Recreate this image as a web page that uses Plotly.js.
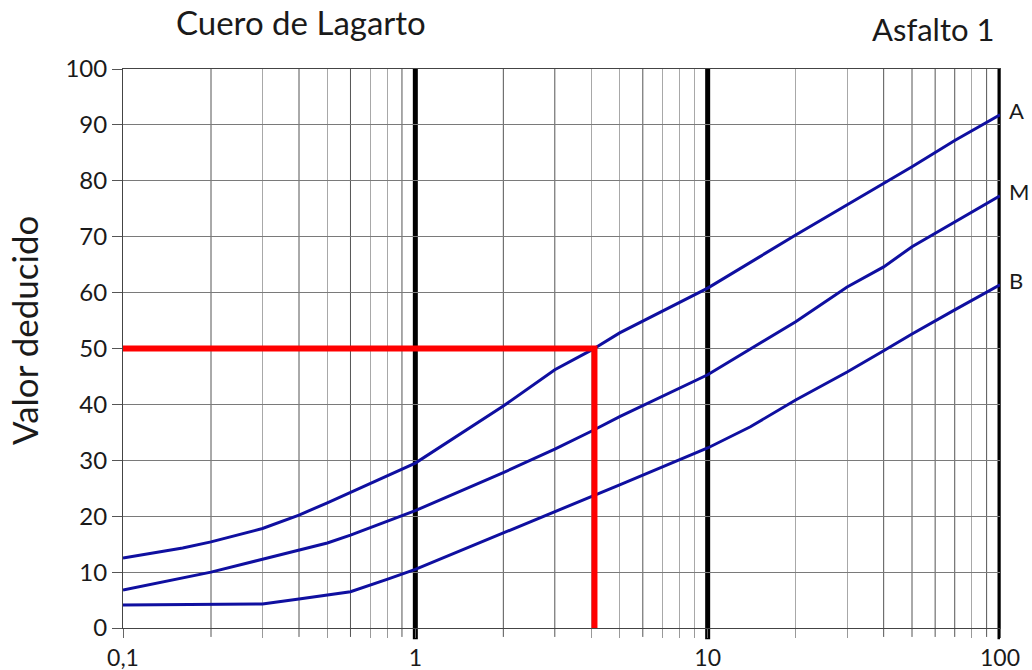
<!DOCTYPE html>
<html>
<head>
<meta charset="utf-8">
<script src="https://cdn.plot.ly/plotly-3.0.1.min.js"></script>
<style>html,body{margin:0;padding:0;background:#fff;}#chart{width:1032px;height:670px;}</style>
</head>
<body>
<div id="chart"></div>
<script>
// Density (%) on log axis vs deduct value
const xA = [0.1, 0.16, 0.2, 0.3, 0.4, 0.5, 1, 2, 3, 4, 5, 10, 20, 30, 40, 50, 70, 100];
const yA = [12.5, 14.3, 15.4, 17.8, 20.2, 22.4, 29.5, 39.7, 46.2, 49.7, 52.8, 60.8, 70.3, 75.7, 79.6, 82.5, 87.2, 91.8];

const xM = [0.1, 0.2, 0.3, 0.4, 0.5, 0.6, 1, 2, 3, 4, 5, 10, 20, 30, 40, 50, 70, 100];
const yM = [6.8, 10.0, 12.3, 14.0, 15.2, 16.6, 21.0, 27.8, 32.0, 35.2, 37.8, 45.3, 54.8, 61.0, 64.6, 68.2, 72.6, 77.3];

const xB = [0.1, 0.3, 0.4, 0.5, 0.6, 0.8, 1, 2, 3, 4, 5, 10, 14, 20, 30, 40, 50, 70, 100];
const yB = [4.1, 4.3, 5.2, 5.9, 6.5, 8.7, 10.5, 17.0, 20.8, 23.4, 25.6, 32.2, 36.0, 40.8, 45.8, 49.6, 52.6, 56.9, 61.4];

const seriesNames = ["A", "M", "B"];

// Example reading (red guide)
const exampleX = [0.1, 4.1, 4.1];
const exampleY = [50, 50, 0];

// Grid / ticks
const majorX = [0.1, 1, 10, 100];
const majorLabels = ["0,1", "1", "10", "100"];
const lightMinorX = [0.3,0.5,0.7,0.8,4,5,7,8,9,20,30,80];
const darkMinorX = [0.2,0.4,0.6,0.9,2,3,6,40,50,60,70,90];
const decadeX = [1, 10, 100];
const yTicks = [0,10,20,30,40,50,60,70,80,90,100];

const titleText = "Cuero de Lagarto";
const subTitleText = "Asfalto 1";
const yTitle = "Valor deducido";

const FONT = "Lato, 'Open Sans', sans-serif";
const BLUE = "#0f0fa0";
const TXT = "#1a1a1a";

const traces = [
  {x: xA, y: yA, mode: "lines", line: {color: BLUE, width: 3}, hoverinfo: "skip"},
  {x: xM, y: yM, mode: "lines", line: {color: BLUE, width: 3}, hoverinfo: "skip"},
  {x: xB, y: yB, mode: "lines", line: {color: BLUE, width: 3}, hoverinfo: "skip"},
  {x: exampleX, y: exampleY, mode: "lines", line: {color: "#ff0000", width: 6}, hoverinfo: "skip"}
];

const shapes = [];
darkMinorX.forEach(v => shapes.push({type: "line", xref: "x", yref: "paper", x0: v, x1: v, y0: -0.016, y1: 1,
  line: {color: "#555", width: 1}, layer: "below"}));
decadeX.forEach(v => shapes.push({type: "line", xref: "x", yref: "paper", x0: v, x1: v, y0: -0.02, y1: 1,
  line: {color: "#000", width: 5}, layer: "below"}));

const ends = [[xA, yA], [xM, yM], [xB, yB]];
const annotations = ends.map((s, i) => ({
  x: Math.log10(s[0][s[0].length - 1]), y: s[1][s[1].length - 1], xref: "x", yref: "y",
  text: seriesNames[i], showarrow: false, xanchor: "left", yanchor: "middle", xshift: 7, yshift: 4,
  font: {family: FONT, size: 22, color: TXT}
}));
annotations.push({x: 0.203, y: 1.084, xref: "paper", yref: "paper", text: titleText, showarrow: false,
  xanchor: "center", yanchor: "middle", font: {family: FONT, size: 33, color: TXT}});
annotations.push({x: 0.995, y: 1.072, xref: "paper", yref: "paper", text: subTitleText, showarrow: false,
  xanchor: "right", yanchor: "middle", font: {family: FONT, size: 31, color: TXT}});
annotations.push({x: -0.113, y: 0.533, xref: "paper", yref: "paper", text: yTitle, showarrow: false,
  textangle: -90, xanchor: "center", yanchor: "middle", font: {family: FONT, size: 35, color: TXT}});

const layout = {
  width: 1032, height: 670,
  margin: {l: 123, r: 32, t: 69, b: 42},
  paper_bgcolor: "#fff", plot_bgcolor: "#fff",
  showlegend: false,
  xaxis: {
    type: "log", range: [-1, 2],
    tickmode: "array", tickvals: majorX, ticktext: majorLabels,
    showgrid: false,
    ticks: "outside", ticklen: 9, tickcolor: "#666", tickwidth: 1,
    minor: {tickmode: "array", tickvals: lightMinorX, showgrid: true, gridcolor: "#a8a8a8", gridwidth: 1,
            ticks: "outside", ticklen: 9, tickcolor: "#999", tickwidth: 1},
    showline: true, linecolor: "#444", linewidth: 1, mirror: true,
    zeroline: false,
    tickfont: {family: FONT, size: 23, color: TXT}
  },
  yaxis: {
    range: [0, 100], tickmode: "array", tickvals: yTicks,
    showgrid: true, gridcolor: "#7a7a7a", gridwidth: 1,
    ticks: "outside", ticklen: 10, tickcolor: "#555", tickwidth: 1,
    showline: true, linecolor: "#444", linewidth: 1, mirror: true,
    zeroline: false,
    tickfont: {family: FONT, size: 24, color: TXT}
  },
  shapes: shapes,
  annotations: annotations
};

Plotly.newPlot("chart", traces, layout, {displayModeBar: false, staticPlot: true});
</script>
</body>
</html>
